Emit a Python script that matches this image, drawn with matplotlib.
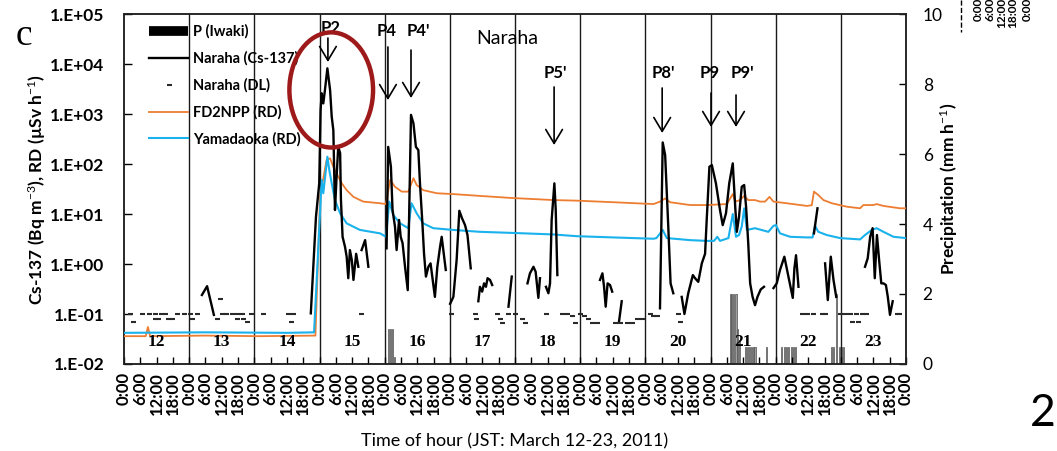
import numpy as np
import matplotlib
matplotlib.use('Agg')
import matplotlib.pyplot as plt
from matplotlib.patches import Ellipse
from matplotlib.lines import Line2D
from matplotlib.ticker import NullLocator

plt.rcParams['font.family'] = ['Lato', 'DejaVu Sans']
plt.rcParams['mathtext.fontset'] = 'custom'
plt.rcParams['mathtext.rm'] = 'Lato'
plt.rcParams['mathtext.bf'] = 'Lato:bold'
plt.rcParams['mathtext.it'] = 'Lato:italic'

nan = np.nan

# time axis: hours since 2011-03-12 0:00 JST
# Naraha Cs-137 (Bq m-3), gaps where below detection limit
cs_hours = [28.7, 30.6, 33.1, nan,
            68.8, 70.7, 71.9, 72.4, 72.8, 73.4, 74.0, 74.9, 75.9, 76.5, 77.1, 77.5, 77.7,
            78.3, 78.9, 79.6, 79.9, 80.5, 81.4, 82.0, 82.6, 83.2, 83.9, 84.5, 85.5, 86.3, nan,
            87.5, 88.8, 90.0, nan,
            96.7, 97.3, 98.3, 98.9, 99.8, 100.4, 101.3, 101.9, 102.6, 103.5, 104.5, 105.7,
            106.6, 107.5, 108.4, 109.0, 109.9, 110.5, 111.2, 112.1, 112.9, 113.7, 114.5,
            115.4, 116.4, 117.0, 117.6, 118.5, nan,
            120.1, 121.3, 122.5, 123.5, 124.5, 125.6, 126.5, 127.7, nan,
            130.5, 131.1, 131.9, 132.6, 133.3, 133.9, 134.8, 135.6, nan,
            141.6, 142.8, nan,
            148.6, 149.5, 150.8, 151.6, 152.6, 153.2, nan,
            155.4, 156.3, 156.9, 157.5, 158.5, 159.0, 159.6, nan,
            175.3, 176.2, 176.8, 177.4, 178.1, 179.0, 179.8, nan,
            182.3, 183.3, nan,
            197.4, 198.4, 199.3, 200.5, 201.3, 202.3, nan,
            205.4, 206.4, 207.8, 209.5, 210.3, 211.5, 212.8, 214.0, 214.6, 215.6, 216.5,
            218.0, 219.5, 220.5, 221.7, 222.9, 224.2, 225.1, 225.7, 226.5, 227.5, 228.4,
            229.1, 229.9, 230.6, 231.5, 232.4, 233.3, 234.5, 235.7, nan,
            239.2, 240.4, 241.6, 243.2, 244.7, 246.3, 246.9, 247.5, 248.4, nan,
            254.1, 255.4, nan,
            258.2, 259.2, 260.3, 261.3, 262.3, nan,
            272.9, 273.9, 274.8, 275.7, 276.5, 277.3, 278.1, 278.9, 279.7, 280.6, 281.3,
            282.1, 283.1]
cs_values = [0.24, 0.36, 0.096, nan,
             0.103, 8.8, 41, 1200, 2600, 1630, 3000, 8200, 3000, 880, 475, 41, 12,
             56, 220, 165, 19, 3.5, 2.2, 1.4, 0.52, 1.9, 1.2, 0.48, 1.6, 0.88, nan,
             1.9, 3.0, 0.88, nan,
             2.06, 220, 88, 12, 5.6, 1.9, 7.6, 3.5, 2.6, 0.88, 0.30, 960,
             650, 220, 190, 41, 6.5, 1.6, 0.56, 0.88, 1.03, 0.48, 0.22,
             0.88, 2.2, 3.5, 1.9, 0.76, nan,
             0.16, 0.22, 1.2, 11.6, 8.2, 6.0, 3.8, 0.82, nan,
             0.18, 0.35, 0.28, 0.41, 0.35, 0.52, 0.48, 0.38, nan,
             0.14, 0.56, nan,
             0.41, 0.65, 0.88, 0.70, 0.21, 0.52, nan,
             0.35, 0.26, 0.41, 7.6, 41, 12, 0.60, nan,
             0.48, 0.65, 0.35, 0.14, 0.41, 0.38, 0.28, nan,
             0.07, 0.18, nan,
             0.13, 270, 150, 4.8, 0.41, 0.26, nan,
             0.22, 0.10, 0.26, 0.60, 0.52, 0.44, 1.03, 1.6, 7.6, 88, 95,
             41, 12, 6.0, 10.3, 41, 103, 14, 4.4, 8.8, 35, 38,
             14, 2.6, 0.41, 0.22, 0.15, 0.22, 0.31, 0.35, nan,
             0.33, 0.41, 0.76, 1.4, 0.56, 0.21, 0.82, 1.5, 0.35, nan,
             4.1, 13, nan,
             1.03, 0.19, 1.4, 0.48, 0.22, nan,
             0.88, 1.3, 3.5, 5.2, 0.52, 3.8, 1.2, 0.41, 0.41, 0.38, 0.22,
             0.096, 0.18]

# Naraha detection limit
dl_hours = [2.2, 3.4, 6.5, 9.3, 11.4, 11.6, 12.6, 13.5, 15.1, 16.3, 17.6, 19.6, 22.1,
            24.3, 24.9, 27.0, 34.1, 35.4, 36.0, 37.5, 39.7, 41.5, 41.8, 43.3, 44.0, 45.2, 46.7,
            51.3, 60.5, 61.4, 62.4, 87.3,
            120.3, 129.3, 129.6, 137.3, 138.5, 139.1, 141.6, 144.0, 146.5, 147.7, 155.3,
            161.2, 163.0, 164.9, 166.1, 168.0, 169.4, 171.0, 172.3, 174.1, 180.8, 182.7,
            185.1, 187.0, 188.8, 190.6, 193.7, 195.0, 196.2, 204.2, 204.8,
            249.6, 251.4, 253.6, 256.9, 258.2, 263.7, 265.6, 267.4, 268.0, 269.6, 270.5,
            271.7, 273.3, 284.6, 285.6]
dl_values = [0.1, 0.07, 0.1, 0.1, 0.1, 0.08, 0.08, 0.1, 0.1, 0.08, 0.08, 0.1, 0.1,
             0.1, 0.08, 0.1, 0.08, 0.2, 0.1, 0.1, 0.1, 0.1, 0.08, 0.1, 0.08, 0.07, 0.1,
             0.1, 0.1, 0.07, 0.1, 0.1,
             0.1, 0.1, 0.08, 0.1, 0.08, 0.066, 0.1, 0.1, 0.08, 0.066, 0.1,
             0.1, 0.1, 0.09, 0.066, 0.1, 0.09, 0.08, 0.066, 0.066, 0.066, 0.066,
             0.066, 0.066, 0.08, 0.08, 0.1, 0.09, 0.09, 0.1, 0.07,
             0.1, 0.1, 0.1, 0.1, 0.1, 0.1, 0.1, 0.1, 0.07, 0.1, 0.07,
             0.1, 0.1, 0.1, 0.1]

# FD2NPP air dose rate (uSv h-1)
fd_hours = [0, 8.0, 8.8, 9.6, 30, 50, 70.5, 71.2, 72.2, 74.6, 75.9, 77.1, 78.3, 80.2, 82.0,
            84.5, 88.1, 94.3, 96.5, 98.0, 99.8, 102.3, 104.7, 106.6, 107.8, 110.2, 115.2,
            121.3, 131.1, 142.2, 158.1, 166.7, 180.2, 195.0, 197.4, 199.3, 201.1, 208.5,
            214.6, 222.0, 224.2, 225.1, 226.9, 228.4, 229.9, 232.4, 234.2, 236.1, 237.7,
            239.2, 244.1, 251.5, 253.3, 254.1, 255.7, 257.6, 260.7, 266.2, 271.1, 272.3,
            276.0, 277.2, 279.7, 285.8, 288]
fd_values = [0.036, 0.036, 0.055, 0.036, 0.037, 0.036, 0.037, 0.5, 22, 120, 130, 88, 65, 41, 30,
             22, 17.7, 16.4, 15.8, 48, 35, 28, 28, 52, 38, 30, 26,
             25, 23, 21, 19, 18.5, 17.2, 15.8, 17.7, 20.5, 17.2, 15.1,
             15.1, 15.8, 25, 17.7, 19, 23, 19, 19, 17.7, 17.7, 22,
             17.7, 16.4, 14.5, 15, 28, 24, 19, 16.4, 14, 13, 15.1,
             15.1, 15.8, 14.5, 13, 13]

# Yamadaoka air dose rate (uSv h-1)
ya_hours = [0, 30, 60, 70.0, 72.8, 73.4, 74.9, 75.6, 76.5, 77.7, 79.6, 82.0, 86.9, 94.3, 96.5,
            97.7, 99.2, 101.7, 104.7, 105.9, 107.8, 110.2, 113.9, 121.3, 131.1, 142.2, 158.1,
            166.7, 180.2, 195.0, 196.1, 198.4, 199.9, 208.5, 214.6, 217.3, 218.5, 219.5,
            222.6, 224.2, 225.4, 226.5, 227.5, 228.4, 229.4, 232.4, 237.3, 239.2, 240.1,
            241.6, 245.3, 251.5, 253.6, 254.5, 255.7, 258.8, 263.7, 271.1, 272.9, 275.4,
            277.2, 279.7, 283.4, 288]
ya_values = [0.042, 0.043, 0.042, 0.043, 48, 26, 140, 76, 41, 19, 10.3, 6.5, 4.8, 4.1, 3.5,
             17.7, 9.5, 6.5, 5.2, 16.4, 10.3, 6.5, 5.2, 4.8, 4.4, 4.2, 3.9,
             3.6, 3.4, 3.2, 3.3, 4.8, 3.3, 3.0, 2.9, 2.9, 3.5, 2.9,
             3.3, 10, 3.5, 3.8, 5.6, 13, 4.8, 5.2, 4.4, 5.8, 6,
             4.1, 3.5, 3.4, 3.4, 5.8, 4.4, 3.8, 3.3, 3.1, 3.8, 4.8,
             5.2, 4.4, 3.5, 3.3]

# Iwaki precipitation (mm h-1)
precip_hours = [97.5, 98.2, 98.9, 99.6,
                223.2, 223.9, 224.6, 225.4, 226.1, 226.8, 228.9, 229.6, 230.3, 231.0, 231.7,
                232.4, 236.5,
                242.2, 243.1, 243.9, 244.8, 245.7, 246.5, 247.4,
                260.4, 261.3, 262.5, 263.4, 264.2, 265.1]
precip_values = [1.0, 1.0, 1.0, 0.2,
                 2.0, 2.0, 2.0, 2.0, 1.0, 0.7, 0.5, 0.5, 0.5, 0.5, 0.5,
                 0.5, 0.5,
                 0.5, 0.5, 0.5, 0.5, 0.5, 0.5, 0.5,
                 0.5, 0.5, 2.0, 0.5, 0.5, 0.5]

day_labels = ['12', '13', '14', '15', '16', '17', '18', '19', '20', '21', '22', '23']
tick_labels = ['0:00', '6:00', '12:00', '18:00'] * 12 + ['0:00']
decade_labels = ['1.E-02', '1.E-01', '1.E+00', '1.E+01', '1.E+02', '1.E+03', '1.E+04', '1.E+05']

peak_labels = ['P2', 'P4', "P4'", "P5'", "P8'", 'P9', "P9'"]
peak_label_hours = [76.2, 96.9, 108.3, 158.7, 198.5, 215.8, 227.6]
peak_label_levels = [52500, 45700, 45700, 6600, 6600, 6600, 6600]
arrow_hours = [75.1, 97.2, 105.7, 158.4, 198.2, 216.2, 225.4]
arrow_tails = [33100, 21900, 19000, 3470, 3310, 2630, 2400]
arrow_tips = [10960, 1900, 2090, 240, 417, 550, 550]

orange = '#ED7D31'
blue = '#1AB2EC'

fig = plt.figure(figsize=(10.57, 4.51), dpi=100)
ax = fig.add_axes([124 / 1057, 1 - 364 / 451, 782 / 1057, 350 / 451])
ax2 = ax.twinx()
ax.set_zorder(ax2.get_zorder() + 1)
ax.patch.set_visible(False)

# precipitation bars on the right axis
ax2.bar(precip_hours, precip_values, width=0.4, color='#a0a0a0', edgecolor='#505050',
        linewidth=0.5)
ax2.set_ylim(0, 10)
ax2.set_yticks([0, 2, 4, 6, 8, 10])
ax2.tick_params(axis='y', direction='in', length=5, width=1, pad=12, labelsize=12.5)

# day separators
for d in range(24, 288, 24):
    ax.axvline(d, color='#1a1a1a', lw=1.0, zorder=1)

fd_line, = ax.plot(fd_hours, fd_values, color=orange, lw=1.3, zorder=3)
ya_line, = ax.plot(ya_hours, ya_values, color=blue, lw=1.5, zorder=3)
cs_line, = ax.plot(cs_hours, cs_values, color='black', lw=1.7, zorder=4)
dl_line, = ax.plot(dl_hours, dl_values, ls='none', marker='_', ms=3.6, mew=1.5,
                   color='#2a2a2a', zorder=4)

ax.set_yscale('log')
ax.set_ylim(1e-2, 1e5)
ax.set_xlim(0, 288)
ax.set_yticks([1e-2, 1e-1, 1e0, 1e1, 1e2, 1e3, 1e4, 1e5])
ax.set_yticklabels(decade_labels, fontweight='bold')
ax.yaxis.set_minor_locator(NullLocator())
ax.tick_params(axis='y', direction='in', length=6, width=1, pad=14, labelsize=12.5)

ax.set_xticks(np.arange(0, 289, 6))
ax.set_xticklabels(tick_labels, rotation=90, fontweight='bold')
ax.tick_params(axis='x', direction='in', length=5, width=1, pad=6, labelsize=12)

for a in (ax, ax2):
    for sp in a.spines.values():
        sp.set_linewidth(1.1)
        sp.set_color('#222222')

# day numbers
for i, lab in enumerate(day_labels):
    ax.text(12 + 24 * i, 0.063, lab, transform=ax.get_xaxis_transform(),
            ha='center', va='center', fontsize=12.5, fontweight='bold',
            family='Liberation Serif')

ax.set_ylabel('Cs-137 (Bq m$^{-3}$), RD (µSv h$^{-1}$)', fontsize=12.5, fontweight='bold')
ax.yaxis.set_label_coords(-0.097, 0.5)
ax2.set_ylabel('Precipitation (mm h$^{-1}$)', fontsize=12.5, fontweight='bold')
ax2.yaxis.set_label_coords(1.041, 0.5)
ax.set_xlabel('Time of hour (JST: March 12-23, 2011)', fontsize=13)
ax.xaxis.set_label_coords(0.5, -0.197)

# plume arrival markers
for lab, lh, ll in zip(peak_labels, peak_label_hours, peak_label_levels):
    ax.text(lh, ll, lab, ha='center', va='center', fontsize=12, fontweight='bold', zorder=6)
for xh, yt, yp in zip(arrow_hours, arrow_tails, arrow_tips):
    ax.annotate('', xy=(xh, yp), xytext=(xh, yt), zorder=6,
                arrowprops=dict(arrowstyle='->,head_length=0.5,head_width=0.3',
                                lw=1.2, color='black', mutation_scale=20,
                                shrinkA=0, shrinkB=0))
ax.text(141.1, 33100, 'Naraha', ha='center', va='center', fontsize=14, zorder=6)

ax.add_patch(Ellipse((0.265, 0.783), 0.107, 0.329, transform=ax.transAxes, fill=False,
                     edgecolor='#9E1A1A', lw=3.2, zorder=10, clip_on=False))

bar_proxy = Line2D([], [], color='black', lw=7, solid_capstyle='butt')
ax.legend([bar_proxy, cs_line, dl_line, fd_line, ya_line],
          ['P (Iwaki)', 'Naraha (Cs-137)', 'Naraha (DL)', 'FD2NPP (RD)', 'Yamadaoka (RD)'],
          loc='upper left', bbox_to_anchor=(0.032, 0.97), frameon=False, borderpad=0,
          borderaxespad=0, handlelength=2.7, handletextpad=0.3, labelspacing=0.85,
          prop=dict(weight='bold', size=10.5))

# panel letters and neighbouring panel edge
fig.text(24 / 1057, 1 - 36 / 451, 'c', family='Liberation Serif', fontsize=27,
         ha='center', va='center')
fig.text(1043 / 1057, 1 - 414 / 451, '2', fontsize=32, ha='center', va='center')
for xp, lab in zip([978, 990, 1002, 1013, 1027], ['0:00', '6:00', '12:00', '18:00', '0:00']):
    fig.text(xp / 1057, 1 + 2 / 451, lab, rotation=90, ha='center', va='top',
             fontsize=8.5, fontweight='bold')
fig.add_artist(Line2D([961 / 1057, 961 / 1057], [1, 1 - 32 / 451], transform=fig.transFigure,
                      ls='--', lw=1, color='black'))

fig.savefig('out.png', dpi=100)
